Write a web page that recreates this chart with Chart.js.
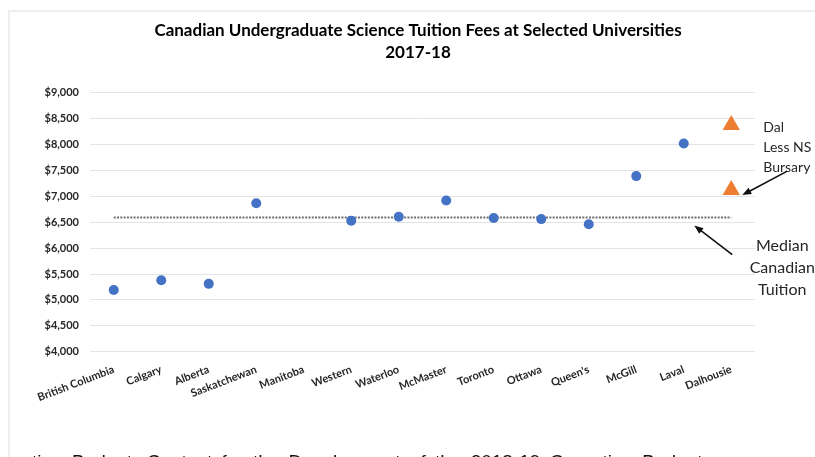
<!DOCTYPE html>
<html><head><meta charset="utf-8">
<script src="https://cdn.jsdelivr.net/npm/chart.js@4"></script>
<style>
html,body{margin:0;padding:0;background:#fff;overflow:hidden;}
#wrap{position:relative;width:815px;height:457px;overflow:hidden;}
#c{position:absolute;left:0;top:0;}
#frame{position:absolute;left:8px;top:10px;width:830px;height:470px;border-left:2px solid #eeeeee;border-top:2px solid #eeeeee;pointer-events:none;}
#foot{position:absolute;left:32px;top:452px;font-family:"Liberation Sans",Arial,sans-serif;font-size:19px;line-height:19px;color:#111;white-space:nowrap;word-spacing:4px;}
</style></head>
<body><div id="wrap"><canvas id="c" width="815" height="457"></canvas><div id="frame"></div><div id="foot">tion Budget: Context for the Development of the 2018-19 Operating Budget</div></div>
<script>
const categories = ['British Columbia','Calgary','Alberta','Saskatchewan','Manitoba','Western','Waterloo','McMaster','Toronto','Ottawa',"Queen's",'McGill','Laval','Dalhousie'];
const tuition = [5190,5380,5310,6865,null,6530,6605,6920,6580,6560,6460,7390,8020,null];
const dalhousieValues = [8375,7120];
const medianTuition = 6590;
const yMin = 4000, yMax = 9000, yStep = 500;
const titleLines = ['Canadian Undergraduate Science Tuition Fees at Selected Universities','2017-18'];
const dalNote = ['Dal','Less NS','Bursary'];
const medianNote = ['Median','Canadian','Tuition'];

function arrow(ctx, x1, y1, x2, y2){
  const a = Math.atan2(y2-y1, x2-x1), L = 9, W = 3.6;
  ctx.beginPath(); ctx.moveTo(x1,y1);
  ctx.lineTo(x2 - Math.cos(a)*L*0.8, y2 - Math.sin(a)*L*0.8); ctx.stroke();
  ctx.beginPath(); ctx.moveTo(x2,y2);
  ctx.lineTo(x2 - Math.cos(a)*L - Math.sin(a)*W, y2 - Math.sin(a)*L + Math.cos(a)*W);
  ctx.lineTo(x2 - Math.cos(a)*L + Math.sin(a)*W, y2 - Math.sin(a)*L - Math.cos(a)*W);
  ctx.closePath(); ctx.fill();
}

const annot = {id:'annot', afterDraw(chart){
  const ctx = chart.ctx, xs = chart.scales.x, ys = chart.scales.y;
  const xd = xs.getPixelForValue(categories.length-1);
  const yTop = ys.getPixelForValue(dalhousieValues[0]);
  const yBot = ys.getPixelForValue(dalhousieValues[1]);
  const yMed = ys.getPixelForValue(medianTuition);
  ctx.save();
  ctx.fillStyle = '#262626';
  ctx.textBaseline = 'middle';
  ctx.font = '14px Lato';
  ctx.textAlign = 'left';
  dalNote.forEach((t,i)=>ctx.fillText(t, xd+32, yTop+2+i*20));
  ctx.font = '16px Lato';
  ctx.textAlign = 'center';
  medianNote.forEach((t,i)=>ctx.fillText(t, xd+51, yMed+28+i*22));
  ctx.strokeStyle = '#111'; ctx.fillStyle = '#111'; ctx.lineWidth = 1.6;
  arrow(ctx, xd+56, yBot-19, xd+11, yBot+5);
  arrow(ctx, xd+1, yMed+37, xd-37, yMed+8);
  ctx.restore();
}};

new Chart(document.getElementById('c'), {
  type: 'line',
  data: {
    labels: categories,
    datasets: [
      {label:'Median', data: categories.map(()=>medianTuition), borderColor:'#6e6e6e', borderWidth:2, borderDash:[2,1.3], pointRadius:0, fill:false, order:3},
      {label:'Tuition', data: tuition, showLine:false, pointRadius:5, pointBackgroundColor:'#4472C4', pointBorderColor:'#4472C4', pointBorderWidth:0, order:1},
      {label:'Dalhousie', data: dalhousieValues.map(v=>({x:'Dalhousie', y:v})), showLine:false, pointStyle:'triangle', pointRadius:10, pointBackgroundColor:'#ED7D31', pointBorderColor:'#ED7D31', pointBorderWidth:0, order:1}
    ]
  },
  options: {
    responsive:false, animation:false,
    layout:{padding:{left:21,right:0,top:0,bottom:0}},
    plugins:{
      legend:{display:false}, tooltip:{enabled:false},
      title:{display:true, text:titleLines, color:'#000', font:{family:'Lato', weight:'bold', size:17, lineHeight:1.3}, padding:{top:19,bottom:29.5}}
    },
    scales:{
      x:{offset:true, grid:{display:false}, border:{display:false},
         ticks:{autoSkip:false, minRotation:21, maxRotation:21, padding:3, color:'#262626', font:{family:'Lato', weight:'bold', size:11}},
         afterFit(s){ s.height = 105.3; }},
      y:{min:yMin, max:yMax, grid:{color:'#e4e4e4', drawTicks:false}, border:{display:false},
         ticks:{stepSize:yStep, padding:11, color:'#262626', font:{family:'Lato', weight:'bold', size:11}, callback:v=>'$'+v.toLocaleString('en-US')},
         afterFit(s){ s.width = 69; }},
      y2:{position:'right', display:true, grid:{display:false}, border:{display:false}, ticks:{display:false}, afterFit(s){ s.width = 60; }}
    }
  },
  plugins:[annot]
});
</script>
</body></html>
